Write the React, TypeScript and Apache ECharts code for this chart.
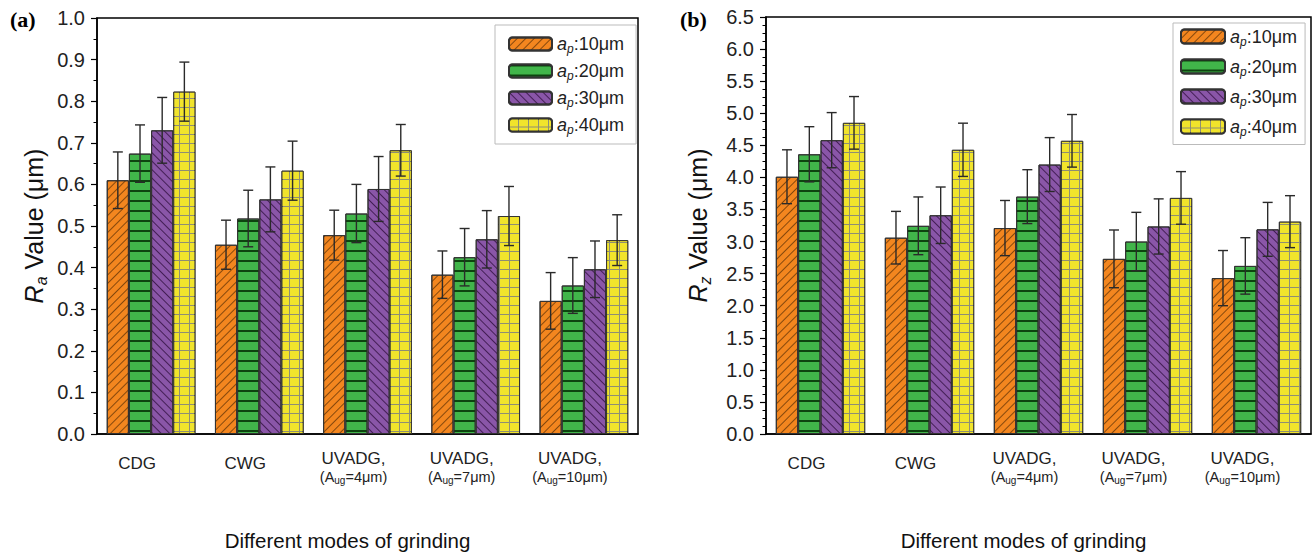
import React, { useEffect, useRef } from "react";
import * as echarts from "echarts";

const categories = ["CDG", "CWG", "UVADG4", "UVADG7", "UVADG10"];
const amplitudes = ["", "", "4", "7", "10"];
const depths = ["10", "20", "30", "40"];
const colors = ["#F3861F", "#41B54A", "#8A56A8", "#F1E42B"];

// Ra (µm)
const raOrange = [0.61, 0.455, 0.478, 0.383, 0.32];
const raGreen = [0.674, 0.518, 0.53, 0.425, 0.357];
const raPurple = [0.73, 0.564, 0.589, 0.468, 0.396];
const raYellow = [0.823, 0.633, 0.682, 0.524, 0.466];
const raErrOrange = [0.068, 0.059, 0.06, 0.057, 0.068];
const raErrGreen = [0.069, 0.068, 0.07, 0.069, 0.067];
const raErrPurple = [0.079, 0.078, 0.078, 0.069, 0.068];
const raErrYellow = [0.071, 0.071, 0.062, 0.071, 0.061];

// Rz (µm)
const rzOrange = [4.01, 3.06, 3.21, 2.73, 2.43];
const rzGreen = [4.36, 3.245, 3.7, 3.0, 2.62];
const rzPurple = [4.58, 3.41, 4.2, 3.235, 3.19];
const rzYellow = [4.85, 4.43, 4.57, 3.68, 3.31];
const rzErrOrange = [0.42, 0.41, 0.43, 0.45, 0.43];
const rzErrGreen = [0.43, 0.45, 0.42, 0.455, 0.44];
const rzErrPurple = [0.43, 0.44, 0.42, 0.43, 0.42];
const rzErrYellow = [0.41, 0.415, 0.41, 0.41, 0.405];

const FONT = "Liberation Sans, Arial, sans-serif";
const GAP = 0.18;

const decals: any[] = [
  { symbol: "rect", symbolSize: 1, dashArrayX: [1, 0], dashArrayY: [1, 4.5], rotation: -Math.PI / 4, color: "rgba(60,30,0,0.6)" },
  { symbol: "rect", symbolSize: 1, dashArrayX: [1, 0], dashArrayY: [1.2, 7.3], rotation: 0, color: "rgba(0,40,0,0.8)" },
  { symbol: "rect", symbolSize: 1, dashArrayX: [1, 0], dashArrayY: [1, 5], rotation: Math.PI / 4, color: "rgba(30,0,40,0.65)" },
  { symbol: "rect", symbolSize: 1, dashArrayX: [9, 1], dashArrayY: [7.5, 1], rotation: 0, color: colors[3] },
];

function seriesName(i: number) {
  return "a_p:" + depths[i] + "μm";
}

export default function App() {
  const ref = useRef<HTMLDivElement>(null);
  useEffect(() => {
    if (!ref.current) return;
    const chart = echarts.init(ref.current, null, { renderer: "svg" });
    const raVals = [raOrange, raGreen, raPurple, raYellow];
    const raErrs = [raErrOrange, raErrGreen, raErrPurple, raErrYellow];
    const rzVals = [rzOrange, rzGreen, rzPurple, rzYellow];
    const rzErrs = [rzErrOrange, rzErrGreen, rzErrPurple, rzErrYellow];

    const xAxis = (gi: number, shift: number) => ({
      type: "category",
      gridIndex: gi,
      data: categories,
      axisTick: { show: false },
      axisLine: { lineStyle: { color: "#000", width: 1.5 } },
      axisLabel: { show: false },
      name: "Different modes of grinding",
      nameLocation: "middle",
      nameGap: 96,
      nameTextStyle: { fontSize: 20.5, fontFamily: FONT, color: "#111", padding: [0, shift, 0, 0] },
    });

    const yAxis = (gi: number, max: number, interval: number, minorSplit: number, sub: string, nameGap: number) => ({
      type: "value",
      gridIndex: gi,
      min: 0,
      max,
      interval,
      splitLine: { show: false },
      axisLine: { show: true, lineStyle: { color: "#000", width: 1.5 } },
      axisTick: { show: true, inside: false, length: 6, lineStyle: { color: "#000", width: 1.2 } },
      minorTick: { show: true, splitNumber: minorSplit, length: 3.5, lineStyle: { color: "#000", width: 1 } },
      axisLabel: {
        fontSize: 20,
        fontFamily: FONT,
        color: "#222",
        margin: 12,
        formatter: (v: number) => v.toFixed(1),
      },
      name: `{r|R}{s|${sub}}{n| Value (μm)}`,
      nameLocation: "middle",
      nameGap,
      nameTextStyle: {
        rich: {
          r: { fontSize: 25, fontStyle: "italic", fontFamily: FONT, color: "#111", lineHeight: 30 },
          s: { fontSize: 16, fontStyle: "italic", fontFamily: FONT, color: "#111", lineHeight: 16, verticalAlign: "bottom" },
          n: { fontSize: 25, fontFamily: FONT, color: "#111", lineHeight: 30 },
        },
      },
    });

    const barSeries = (gi: number, vals: number[][]) =>
      vals.map((v, i) => ({
        type: "bar",
        name: seriesName(i),
        xAxisIndex: gi,
        yAxisIndex: gi,
        data: v,
        barGap: "0%",
        barCategoryGap: GAP * 100 + "%",
        itemStyle: {
          color: i === 3 ? "rgba(50,50,0,0.55)" : colors[i],
          borderColor: "#333",
          borderWidth: 1,
          decal: decals[i],
        },
        emphasis: { disabled: true },
      }));

    const errSeries = (gi: number, vals: number[][], errs: number[][]) => {
      const data: number[][] = [];
      vals.forEach((v, si) => v.forEach((val, ci) => data.push([ci, val, errs[si][ci], si])));
      return {
        type: "custom",
        xAxisIndex: gi,
        yAxisIndex: gi,
        z: 5,
        silent: true,
        encode: { x: 0, y: 1 },
        data,
        renderItem: (_p: any, api: any) => {
          const ci = api.value(0);
          const val = api.value(1);
          const err = api.value(2);
          const si = api.value(3);
          const band = api.size([1, 0])[0];
          const bw = (band * (1 - GAP)) / 4;
          const x = api.coord([ci, val])[0] + (si - 1.5) * bw;
          const yt = api.coord([ci, val + err])[1];
          const yb = api.coord([ci, val - err])[1];
          const cap = 5;
          const style = { stroke: "#2a2a2a", lineWidth: 1.4 };
          return {
            type: "group",
            children: [
              { type: "line", shape: { x1: x, y1: yt, x2: x, y2: yb }, style },
              { type: "line", shape: { x1: x - cap, y1: yt, x2: x + cap, y2: yt }, style },
              { type: "line", shape: { x1: x - cap, y1: yb, x2: x + cap, y2: yb }, style },
            ],
          };
        },
      };
    };

    // category labels, placed through the category axis
    const labelSeries = (gi: number) => ({
      type: "custom",
      xAxisIndex: gi,
      yAxisIndex: gi,
      z: 6,
      silent: true,
      clip: false,
      encode: { x: 0, y: 1 },
      data: categories.map((_c, i) => [i, 0]),
      renderItem: (_p: any, api: any) => {
        const ci = api.value(0);
        const p = api.coord([ci, 0]);
        const two = !!amplitudes[ci];
        const text = two
          ? `{n|UVADG,}\n{m|(A}{s|ug}{m|=${amplitudes[ci]}μm)}`
          : `{n|${categories[ci]}}`;
        return {
          type: "text",
          x: p[0] - 14,
          y: p[1] + (two ? 15 : 20),
          style: {
            text,
            align: "center",
            verticalAlign: "top",
            fill: "#222",
            fontFamily: FONT,
            rich: {
              n: { fontSize: 17, fontFamily: FONT, fill: "#222", lineHeight: 19 },
              m: { fontSize: 14.5, fontFamily: FONT, fill: "#222", lineHeight: 17 },
              s: { fontSize: 10, fontFamily: FONT, fill: "#222", lineHeight: 10, verticalAlign: "bottom" },
            },
          },
        };
      },
    });

    const legend = (left: number, top: number, iw: number, ih: number, gap: number, padding: number[]) => ({
      left,
      top,
      orient: "vertical",
      itemWidth: iw,
      itemHeight: ih,
      itemGap: gap,
      padding,
      backgroundColor: "#fff",
      borderColor: "#bbb",
      borderWidth: 1,
      selectedMode: false,
      data: depths.map((_d, i) => seriesName(i)),
      formatter: (name: string) => `{i|a}{s|p}{n|${name.slice(3)}}`,
      textStyle: {
        rich: {
          i: { fontSize: 18, fontStyle: "italic", fontFamily: FONT, color: "#222", lineHeight: 22 },
          s: { fontSize: 12, fontStyle: "italic", fontFamily: FONT, color: "#222", lineHeight: 12, verticalAlign: "bottom" },
          n: { fontSize: 18, fontFamily: FONT, color: "#222", lineHeight: 22 },
        },
      },
    });

    chart.setOption({
      animation: false,
      grid: [
        { left: 97, top: 18, width: 541, height: 425, show: true, borderColor: "#000", borderWidth: 1.5, backgroundColor: "transparent" },
        { left: 766, top: 17, width: 545, height: 426, show: true, borderColor: "#000", borderWidth: 1.5, backgroundColor: "transparent" },
      ],
      xAxis: [xAxis(0, 40), xAxis(1, 30)],
      yAxis: [yAxis(0, 1, 0.1, 2, "a", 48), yAxis(1, 6.5, 0.5, 4, "z", 53)],
      legend: [
        legend(495, 25, 43, 13, 7, [10, 12, 8, 13]),
        legend(1173, 23, 44, 14, 10, [4.5, 8, 7, 7]),
      ],
      graphic: [
        { type: "text", left: 10, top: 8, style: { text: "(a)", fontSize: 22, fontWeight: "bold", fontFamily: "Liberation Serif, Times New Roman, serif", fill: "#000" } },
        { type: "text", left: 680, top: 8, style: { text: "(b)", fontSize: 22, fontWeight: "bold", fontFamily: "Liberation Serif, Times New Roman, serif", fill: "#000" } },
      ],
      series: [
        ...barSeries(0, raVals),
        errSeries(0, raVals, raErrs),
        labelSeries(0),
        ...barSeries(1, rzVals),
        errSeries(1, rzVals, rzErrs),
        labelSeries(1),
      ],
    });
    return () => chart.dispose();
  }, []);
  return (
    <div
      ref={ref}
      style={{ position: "fixed", left: 0, top: 0, width: 1314, height: 556, background: "#fff" }}
    />
  );
}
